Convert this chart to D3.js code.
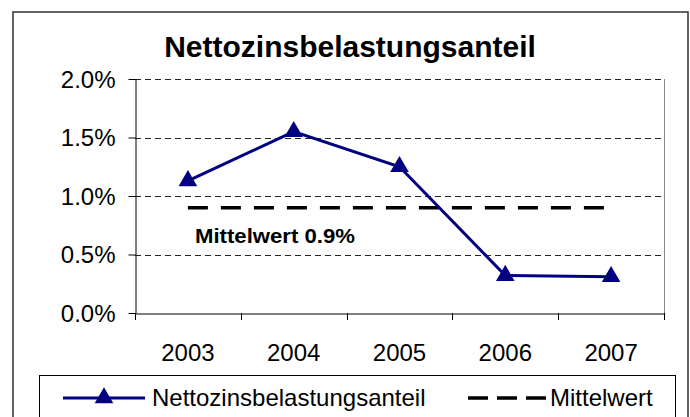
<!DOCTYPE html>
<html><head><meta charset="utf-8">
<script src="https://cdn.jsdelivr.net/npm/d3@7"></script>
<style>body{margin:0;background:#fff}svg{display:block;font-family:"Liberation Sans",Arial,sans-serif}</style>
</head><body>
<svg id="c" width="690" height="417"></svg>
<script>
const title = "Nettozinsbelastungsanteil";
const years = ["2003","2004","2005","2006","2007"];
const values = [1.13, 1.55, 1.25, 0.32, 0.31];
const meanValue = 0.9;
const meanLabel = "Mittelwert 0.9%";
const yTicks = [0, 0.5, 1.0, 1.5, 2.0];
const seriesName = "Nettozinsbelastungsanteil";
const meanName = "Mittelwert";

const svg = d3.select("#c");
const L = 135, R = 664, T = 79, B = 313;
const x = d3.scaleBand().domain(years).range([L, R]);
const y = d3.scaleLinear().domain([0, 2]).range([B, T]);

// outer border
svg.append("rect").attr("x", 13).attr("y", 12).attr("width", 675).attr("height", 420)
  .attr("fill", "#fff").attr("stroke", "#333").attr("stroke-width", 1.5);

// title
svg.append("text").attr("x", 350).attr("y", 57).attr("text-anchor", "middle")
  .attr("font-size", 30).attr("font-weight", "bold").text(title);

// gridlines
svg.append("g").selectAll("line").data(yTicks.filter(d => d > 0)).join("line")
  .attr("x1", L).attr("x2", R).attr("y1", d => Math.round(y(d)) + 0.5).attr("y2", d => Math.round(y(d)) + 0.5)
  .attr("stroke", "#222").attr("stroke-width", 1).attr("stroke-dasharray", "6,4");

// right plot border
svg.append("line").attr("x1", R + 0.5).attr("x2", R + 0.5).attr("y1", T).attr("y2", B)
  .attr("stroke", "#888").attr("stroke-width", 1);

// y axis
const yAxis = svg.append("g").attr("transform", `translate(${L + 0.5},0)`)
  .call(d3.axisLeft(y).tickValues(yTicks).tickFormat(d => d.toFixed(1) + "%").tickSize(7).tickSizeOuter(0));
yAxis.select(".domain").attr("stroke", "#000");
yAxis.selectAll(".tick line").attr("stroke", "#000");
yAxis.selectAll(".tick text").attr("font-size", 24).attr("font-family", "Liberation Sans, Arial, sans-serif")
  .attr("fill", "#000").attr("x", -20).attr("dy", "0.35em");

// x axis
const xAxis = svg.append("g").attr("transform", `translate(0,${Math.round(B) + 0.5})`)
  .call(d3.axisBottom(x).tickSize(0).tickSizeOuter(0));
xAxis.select(".domain").attr("stroke", "#000");
xAxis.selectAll(".tick text").attr("font-size", 24).attr("font-family", "Liberation Sans, Arial, sans-serif")
  .attr("fill", "#000").attr("y", 47).attr("dy", 0);
// x tick marks at category boundaries
const bounds = years.map(d => x(d)).concat([R]);
svg.append("g").selectAll("line").data(bounds).join("line")
  .attr("x1", d => Math.round(d) + 0.5).attr("x2", d => Math.round(d) + 0.5)
  .attr("y1", B).attr("y2", B + 7).attr("stroke", "#000");

// mean line
const cx = d => x(d) + x.bandwidth() / 2;
svg.append("line").attr("x1", cx(years[0])).attr("x2", cx(years[years.length - 1]))
  .attr("y1", y(meanValue)).attr("y2", y(meanValue))
  .attr("stroke", "#000").attr("stroke-width", 3.5).attr("stroke-dasharray", "20,13");
svg.append("text").attr("x", 195).attr("y", 243).attr("font-size", 20).attr("font-weight", "bold")
  .attr("textLength", 160).attr("lengthAdjust", "spacingAndGlyphs").text(meanLabel);

// series line
const line = d3.line().x((d, i) => cx(years[i])).y(d => y(d));
svg.append("path").datum(values).attr("d", line).attr("fill", "none")
  .attr("stroke", "#000080").attr("stroke-width", 3);
const tri = d3.symbol().type(d3.symbolTriangle).size(150);
svg.append("g").selectAll("path").data(values).join("path")
  .attr("d", tri).attr("transform", (d, i) => `translate(${cx(years[i])},${y(d)})`)
  .attr("fill", "#000080");

// legend
svg.append("rect").attr("x", 39.5).attr("y", 375.5).attr("width", 636).attr("height", 60)
  .attr("fill", "#fff").attr("stroke", "#000").attr("stroke-width", 1);
svg.append("line").attr("x1", 63).attr("x2", 145).attr("y1", 398).attr("y2", 398)
  .attr("stroke", "#000080").attr("stroke-width", 3);
svg.append("path").attr("d", tri).attr("transform", "translate(104,398)").attr("fill", "#000080");
svg.append("text").attr("x", 152).attr("y", 406).attr("font-size", 24).text(seriesName);
svg.append("line").attr("x1", 468).attr("x2", 546).attr("y1", 398).attr("y2", 398)
  .attr("stroke", "#000").attr("stroke-width", 3.5).attr("stroke-dasharray", "20,9");
svg.append("text").attr("x", 550).attr("y", 406).attr("font-size", 24).text(meanName);
</script>
</body></html>
